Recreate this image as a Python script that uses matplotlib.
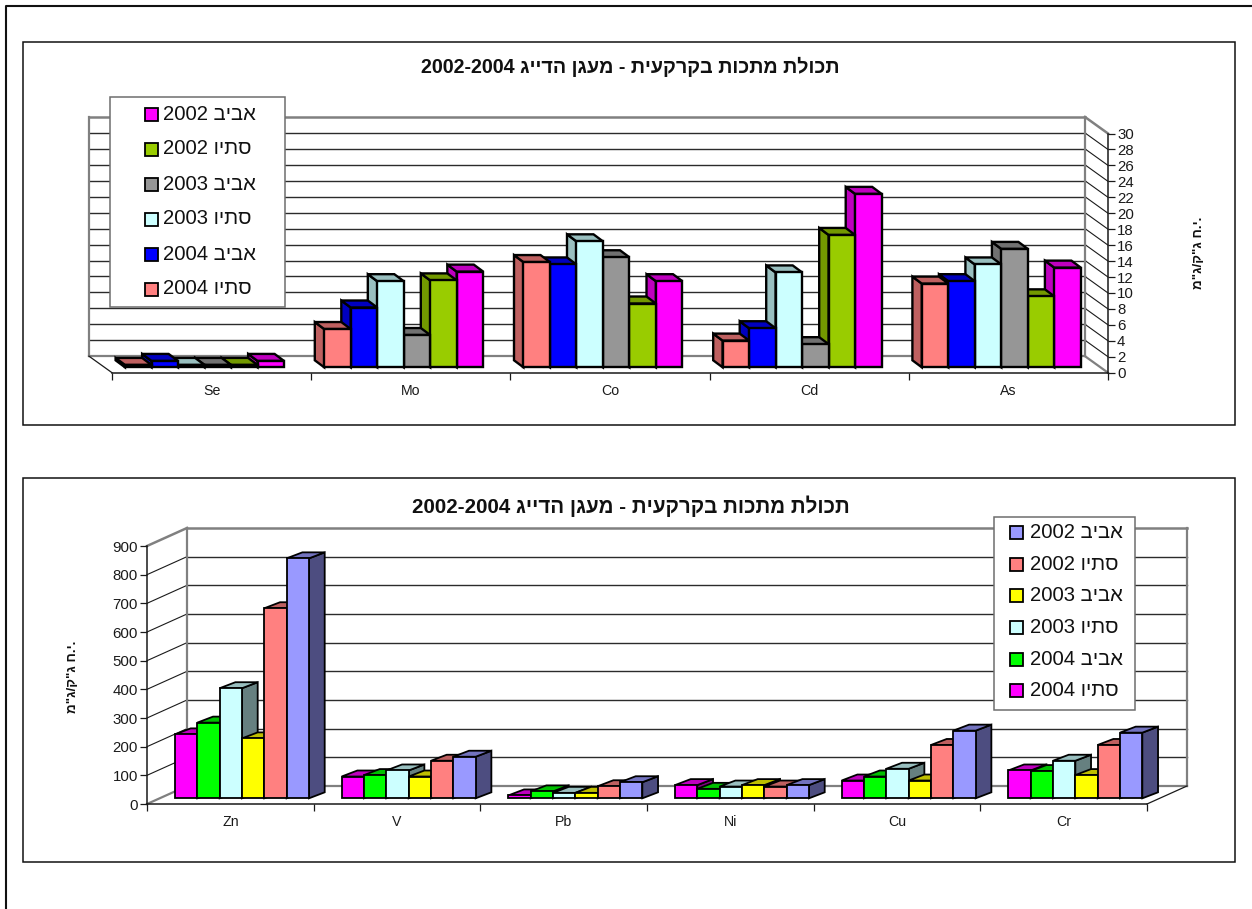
import matplotlib
matplotlib.use("Agg")
import matplotlib.pyplot as plt
from matplotlib.colors import to_rgb
from matplotlib.patches import Polygon, Rectangle

plt.rcParams['font.family'] = ['Liberation Sans', 'DejaVu Sans']

W, H = 1252, 909

spring = "אביב"
summer = "סתיו"
title_he = "תכולת מתכות בקרקעית - מעגן הדייג"
unit_label = "מ\"ג/ק\"ג ח.י."

# upper chart, series listed left to right inside each group
top_categories = ["Se", "Mo", "Co", "Cd", "As"]
top_summer_2004 = [0.3, 4.8, 13.2, 3.35, 10.5]
top_spring_2004 = [0.8, 7.5, 12.9, 4.9, 10.8]
top_summer_2003 = [0.3, 10.8, 15.8, 11.9, 12.9]
top_spring_2003 = [0.3, 4.05, 13.8, 2.9, 14.85]
top_summer_2002 = [0.3, 10.9, 8.0, 16.6, 8.9]
top_spring_2002 = [0.8, 12.0, 10.8, 21.75, 12.5]
top_ticks = list(range(0, 31, 2))

# lower chart
low_categories = ["Zn", "V", "Pb", "Ni", "Cu", "Cr"]
low_summer_2004 = [223, 76, 10, 46, 62, 97]
low_spring_2004 = [264, 81, 24, 33, 76, 95]
low_summer_2003 = [384, 97, 19, 41, 103, 131]
low_spring_2003 = [209, 76, 19, 46, 62, 81]
low_summer_2002 = [663, 131, 42, 41, 186, 186]
low_spring_2002 = [837, 145, 56, 46, 236, 229]
low_ticks = list(range(0, 901, 100))

top_colors = ["#FF8080", "#0000FF", "#CCFFFF", "#969696", "#99CC00", "#FF00FF"]
low_colors = ["#FF00FF", "#00FF00", "#CCFFFF", "#FFFF00", "#FF8080", "#9999FF"]


def shade(color, k):
    return tuple(c * k for c in to_rgb(color))


def make_axes(fig, left, right, bottom, top):
    return fig.add_axes([left / W, 1 - bottom / H, (right - left) / W, (bottom - top) / H])


def make_page(fig, z):
    # whole-figure layer measured in pixels, y pointing down
    p = fig.add_axes([0, 0, 1, 1], zorder=z)
    p.set_xlim(0, W)
    p.set_ylim(H, 0)
    p.axis("off")
    return p


def draw_3d_bars(ax, cats, series, colors, ymax, box, wall, bar, ticks, axis_right):
    left, right, bottom, top = box
    n = len(cats)
    ax.set_xlim(0, n)
    ax.set_ylim(0, ymax)
    ax.patch.set_visible(False)
    for s in ax.spines.values():
        s.set_visible(False)

    px_x = n / (right - left)
    px_y = ymax / (bottom - top)
    wall_dx = wall[0] * px_x
    wall_dy = wall[1] * px_y

    # back wall, side wall and floor
    wall_x0 = wall_dx
    wall_x1 = n + wall_dx
    wall_y1 = ymax + wall_dy
    grey = "#808080"
    side_x0, side_x1 = (n, wall_x1) if axis_right else (0, wall_x0)
    for t in ticks[1:-1]:
        ax.plot([wall_x0, wall_x1], [t + wall_dy] * 2, color="#2b2b2b", lw=1.0, clip_on=False, zorder=1)
    for t in ticks[1:-1]:
        ax.plot([side_x0, side_x1], [t, t + wall_dy], color="#1a1a1a", lw=0.8, clip_on=False, zorder=1)
    ax.plot([wall_x0, wall_x1], [wall_dy, wall_dy], color=grey, lw=1.6, clip_on=False, zorder=1)
    ax.plot([wall_x0, wall_x1], [wall_y1, wall_y1], color=grey, lw=1.8, clip_on=False, zorder=1)
    ax.plot([wall_x0, wall_x0], [wall_dy, wall_y1], color=grey, lw=1.6, clip_on=False, zorder=1)
    ax.plot([wall_x1, wall_x1], [wall_dy, wall_y1], color=grey, lw=1.6, clip_on=False, zorder=1)
    ax.plot([side_x0, side_x1], [ymax, wall_y1], color=grey, lw=1.8, clip_on=False, zorder=1)
    floor_x = 0 if axis_right else n
    ax.plot([floor_x, floor_x + wall_dx], [0, wall_dy], color="#1a1a1a", lw=0.9, clip_on=False, zorder=1)
    ax.plot([side_x0, side_x1], [0, wall_dy], color=grey, lw=1.6, clip_on=False, zorder=1)

    # category axis and value axis
    ax.plot([0, n], [0, 0], color="#1a1a1a", lw=1.1, clip_on=False, zorder=2)
    axis_x = n if axis_right else 0
    ax.plot([axis_x, axis_x], [0, ymax], color="#1a1a1a", lw=1.1, clip_on=False, zorder=2)
    if axis_right:
        ax.yaxis.tick_right()
    ax.set_yticks(ticks)
    ax.set_xticks(range(n + 1))
    ax.set_xticklabels([""] * (n + 1))
    ax.tick_params(axis="y", length=5, width=0.9, labelsize=10.8, pad=1.5, color="#1a1a1a", labelcolor="#1a1a1a")
    ax.tick_params(axis="x", length=5, width=0.9, color="#1a1a1a")
    for i, c in enumerate(cats):
        ax.text(i + 0.5, -18.5 * px_y, c, ha="center", va="center", fontsize=10.2, color="#1a1a1a")

    # the bars; the nearer neighbour has to be painted over the side face
    bar_w = bar["group"] / len(series) * px_x
    x0 = bar["margin"] * px_x
    base = bar["lift"] * px_y
    dx = bar["depth"][0] * px_x
    dy = bar["depth"][1] * px_y
    order = list(range(len(series)))
    if axis_right:
        order = order[::-1]
    lw = bar["lw"]
    z = 3
    for i in range(n):
        for j in order:
            v = series[j][i]
            c = colors[j]
            x = i + x0 + j * bar_w
            yb = base
            yt = base + v
            if dx < 0:
                side = [(x, yb), (x, yt), (x + dx, yt + dy), (x + dx, yb + dy)]
            else:
                side = [(x + bar_w, yb), (x + bar_w, yt), (x + bar_w + dx, yt + dy), (x + bar_w + dx, yb + dy)]
            roof = [(x, yt), (x + bar_w, yt), (x + bar_w + dx, yt + dy), (x + dx, yt + dy)]
            ax.add_patch(Polygon(side, closed=True, fc=shade(c, bar["side"]), ec="black", lw=lw, clip_on=False, zorder=z, joinstyle="miter"))
            ax.add_patch(Polygon(roof, closed=True, fc=shade(c, 0.75), ec="black", lw=lw, clip_on=False, zorder=z, joinstyle="miter"))
            ax.bar(x, v, width=bar_w, bottom=base, align="edge", color=c, edgecolor="black", lw=lw, clip_on=False, zorder=z)
            z += 0.01


def draw_legend(p, x0, x1, y0, y1, colors, labels, swatch_x, text_x, first_y, step):
    p.add_patch(Rectangle((x0, y0), x1 - x0, y1 - y0, fc="white", ec="#6e6e6e", lw=1.1))
    for i, (c, lab) in enumerate(zip(colors, labels)):
        y = first_y + i * step
        p.add_patch(Rectangle((swatch_x, y - 6.5), 13, 13, fc=c, ec="black", lw=1.3))
        p.text(text_x, y, lab, fontsize=14.6, ha="left", va="center", color="#111111")


fig = plt.figure(figsize=(W / 100, H / 100), dpi=100, facecolor="white")

page = make_page(fig, 0)

# outer page border and the two chart frames
page.plot([5.5, 5.5, W], [H, 6, 6], color="#111111", lw=1.5)
page.add_patch(Rectangle((22.5, 42), 1212, 383, fc="white", ec="#111111", lw=1.1))
page.add_patch(Rectangle((22.5, 477.5), 1212, 384.5, fc="white", ec="#111111", lw=1.1))

title = "2002-2004 " + title_he[::-1]
page.text(630, 67, title, fontsize=14.2, fontweight="bold", ha="center", va="center", color="#111111")
page.text(630.5, 506, title, fontsize=14.8, fontweight="bold", ha="center", va="center", color="#111111")

# rotated unit labels
page.text(1199, 253, unit_label, fontsize=9.6, fontweight="bold", rotation=90, ha="center", va="center", color="#111111")
page.text(73, 677, unit_label, fontsize=9.6, fontweight="bold", rotation=90, ha="center", va="center", color="#111111")

top_box = (112, 1108, 372.7, 133.5)
ax_top = make_axes(fig, 112, 1108, 372.7, 133.5)
ax_top.set_zorder(1)
draw_3d_bars(
    ax_top, top_categories,
    [top_summer_2004, top_spring_2004, top_summer_2003, top_spring_2003, top_summer_2002, top_spring_2002],
    top_colors, 30, top_box, (-23, 16.5),
    {"group": 159, "margin": 13, "lift": 5.4, "depth": (-9.4, 7), "side": 0.75, "lw": 1.7},
    top_ticks, True,
)

low_box = (147, 1147, 804, 546)
ax_low = make_axes(fig, 147, 1147, 804, 546)
ax_low.set_zorder(1)
draw_3d_bars(
    ax_low, low_categories,
    [low_summer_2004, low_spring_2004, low_summer_2003, low_spring_2003, low_summer_2002, low_spring_2002],
    low_colors, 900, low_box, (40, 18),
    {"group": 134, "margin": 28, "lift": 5.7, "depth": (15.7, 6), "side": 0.5, "lw": 1.3},
    low_ticks, False,
)

years = [2002, 2002, 2003, 2003, 2004, 2004]
words = [spring, summer, spring, summer, spring, summer]
legend_labels = [f"{y} {w[::-1]}" for y, w in zip(years, words)]

# legends sit above the plots, so they get their own layer
overlay = make_page(fig, 2)
draw_legend(overlay, 109.5, 285, 96.7, 307, top_colors[::-1], legend_labels, 144.5, 163, 114, 35)
draw_legend(overlay, 994, 1135, 516.7, 710, low_colors[::-1], legend_labels, 1009.5, 1030.5, 532.7, 31.6)

fig.savefig("out.png", dpi=100)
